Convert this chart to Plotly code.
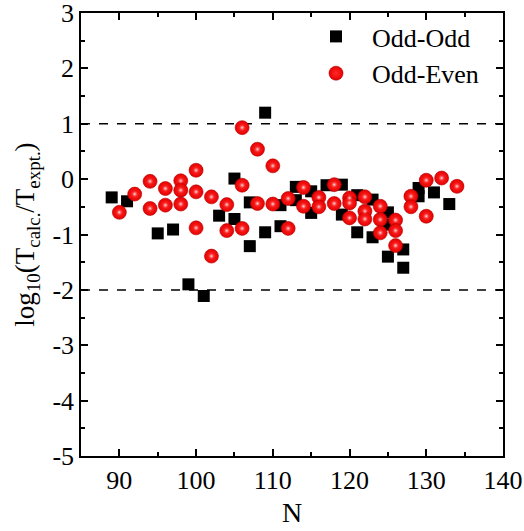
import plotly.graph_objects as go

# Odd-Odd nuclei (neutron number, log10 ratio)
oo_N = [89, 91, 95, 97, 99, 101, 103, 105, 105, 107, 107, 109, 109, 111, 111,
        113, 113, 115, 115, 117, 119, 119, 121, 121, 123, 123, 125, 125, 125,
        127, 127, 129, 129, 131, 133]
oo_val = [-0.33, -0.40, -0.98, -0.91, -1.90, -2.11, -0.66, 0.01, -0.72, -0.42, -1.21,
          1.20, -0.96, -0.47, -0.85, -0.14, -0.38, -0.22, -0.61, -0.11, -0.10, -0.64,
          -0.29, -0.96, -0.37, -1.05, -0.60, -0.82, -1.40, -1.27, -1.60, -0.16, -0.31,
          -0.24, -0.45]

# Odd-Even nuclei
oe_N = [90, 92, 94, 94, 96, 96, 98, 98, 98, 100, 100, 100, 102, 102, 104, 104,
        106, 106, 106, 108, 108, 110, 110, 112, 112, 114, 114, 116, 116, 118, 118,
        120, 120, 120, 122, 122, 122, 124, 124, 124, 126, 126, 126, 128, 128,
        130, 130, 132, 134]
oe_val = [-0.60, -0.27, -0.04, -0.53, -0.17, -0.47, -0.03, -0.20, -0.45, 0.16, -0.23,
          -0.88, -0.32, -1.39, -0.46, -0.93, 0.93, -0.11, -0.89, 0.54, -0.44, 0.24,
          -0.45, -0.35, -0.89, -0.15, -0.49, -0.33, -0.50, -0.10, -0.44, -0.34, -0.43,
          -0.70, -0.32, -0.58, -0.72, -0.49, -0.73, -0.97, -0.74, -0.93, -1.20, -0.31,
          -0.50, -0.02, -0.67, 0.02, -0.13]

ref_levels = [1, -2]
x_ticks = [90, 100, 110, 120, 130, 140]
y_ticks = [3, 2, 1, 0, -1, -2, -3, -4, -5]
y_tick_labels = ["3", "2", "1", "0", "-1", "-2", "-3", "-4", "-5"]

FONT = "Liberation Serif"

fig = go.Figure()
fig.add_trace(go.Scatter(
    x=oo_N, y=oo_val, mode="markers", name="Odd-Odd",
    marker=dict(symbol="square", size=12, color="black", line=dict(width=0)),
))
fig.add_trace(go.Scatter(
    x=oe_N, y=oe_val, mode="markers", name="Odd-Even",
    marker=dict(symbol="circle", size=14, color="#e80000",
                gradient=dict(type="radial", color="#ff2a2a"),
                line=dict(width=0.6, color="#b00000")),
))
# sphere highlight (same points, small glossy spot)
fig.add_trace(go.Scatter(
    x=oe_N, y=oe_val, mode="markers", name="Odd-Even", showlegend=False,
    hoverinfo="skip",
    marker=dict(symbol="circle", size=7, color="rgba(255,40,40,0)",
                gradient=dict(type="radial", color="rgba(255,235,235,1)"),
                line=dict(width=0)),
))

for lv in ref_levels:
    fig.add_shape(type="line", xref="paper", x0=0, x1=1, yref="y", y0=lv, y1=lv,
                  line=dict(color="black", width=1.5, dash="dash"), layer="below")

axis_common = dict(
    showline=True, linecolor="black", linewidth=1.5, mirror="ticks",
    ticks="inside", ticklen=7, tickwidth=1.5, tickcolor="black",
    showgrid=False, zeroline=False, automargin=False, ticklabeloverflow="allow",
    tickfont=dict(family=FONT, size=26, color="black"),
)

fig.update_layout(
    width=524, height=531,
    margin=dict(l=81, r=21, t=13, b=75),
    paper_bgcolor="white", plot_bgcolor="white",
    font=dict(family=FONT, color="black"),
    xaxis=dict(
        range=[85, 140], tickvals=x_ticks,
        minor=dict(ticks="inside", ticklen=4, dtick=5, tick0=85, tickcolor="black", tickwidth=1.5),
        title=dict(text="N", font=dict(family=FONT, size=28, color="black"), standoff=8),
        **axis_common,
    ),
    yaxis=dict(
        range=[-5, 3], tickvals=y_ticks, ticktext=y_tick_labels,
        minor=dict(ticks="inside", ticklen=4, dtick=0.5, tick0=0, tickcolor="black", tickwidth=1.5),
        title=dict(text="log<sub>10</sub>(T<sub>calc.</sub>/T<sub>expt.</sub>)",
                   font=dict(family=FONT, size=27, color="black"), standoff=10),
        **axis_common,
    ),
    legend=dict(
        x=0.519, y=1.0, xanchor="left", yanchor="top",
        bgcolor="rgba(0,0,0,0)", borderwidth=0,
        font=dict(family=FONT, size=26, color="black"),
        tracegroupgap=0, itemwidth=62,
    ),
    showlegend=True,
)

fig.write_html("out.html", config={"displayModeBar": False},
               post_script="document.body.style.margin='0';document.body.style.overflow='hidden';")
